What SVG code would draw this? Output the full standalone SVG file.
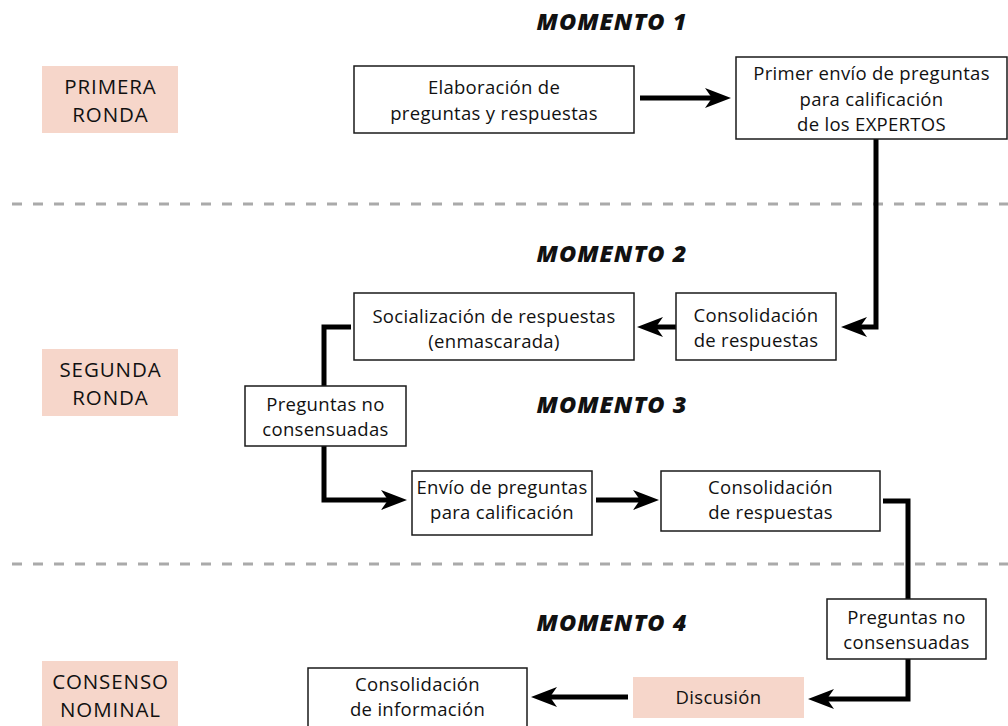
<svg xmlns="http://www.w3.org/2000/svg" width="1008" height="726" viewBox="0 0 1008 726">
<style>
  .box { fill: #ffffff; stroke: #1a1a1a; stroke-width: 1.5; }
  .lab { fill: #f6d6ca; stroke: none; }
  .t { font-family: "Open Sans", "Noto Sans", sans-serif; font-size: 18.5px; letter-spacing: 0.3px; fill: #111; text-anchor: middle; }
  .l { font-family: "Open Sans", "Noto Sans", sans-serif; font-size: 20.5px; letter-spacing: 0.9px; fill: #111; text-anchor: middle; }
  .m { font-family: "Open Sans", "Noto Sans", sans-serif; font-size: 23.5px; letter-spacing: 1px; font-weight: 800; font-style: italic; fill: #111; text-anchor: middle; }
  .dash { stroke: #aaaaaa; stroke-width: 3; stroke-dasharray: 10 11; fill: none; }
  .c { fill: none; stroke: #000; stroke-width: 5; stroke-linejoin: miter; stroke-linecap: butt; }
</style>
<defs>
  <marker id="ah" markerUnits="userSpaceOnUse" markerWidth="27" markerHeight="22" refX="8" refY="10" orient="auto" overflow="visible">
    <path d="M0,0 L26,10 L0,20 L7,10 Z" fill="#000"/>
  </marker>
</defs>
<rect width="1008" height="726" fill="#ffffff"/>

<g id="separators">
  <line class="dash" x1="12" y1="204" x2="1008" y2="204"/>
  <line class="dash" x1="12" y1="564" x2="1008" y2="564"/>
</g>

<g id="moment-titles">
  <text class="m" x="612" y="30">MOMENTO 1</text>
  <text class="m" x="612" y="262">MOMENTO 2</text>
  <text class="m" x="612" y="413">MOMENTO 3</text>
  <text class="m" x="612" y="631">MOMENTO 4</text>
</g>

<g id="connectors">
  <path class="c" d="M640,98 H713" marker-end="url(#ah)"/>
  <path class="c" d="M876,139 V327 H859" marker-end="url(#ah)"/>
  <path class="c" d="M676,327 H655" marker-end="url(#ah)"/>
  <path class="c" d="M351,327 H324 V386"/>
  <path class="c" d="M324,446 V500 H389" marker-end="url(#ah)"/>
  <path class="c" d="M596,500 H641" marker-end="url(#ah)"/>
  <path class="c" d="M883,501 H908 V599"/>
  <path class="c" d="M908,659 V699 H826" marker-end="url(#ah)"/>
  <path class="c" d="M628,697 H549" marker-end="url(#ah)"/>
</g>

<g id="primera-ronda">
  <rect class="lab" x="42" y="66" width="136" height="67"/>
  <text class="l" x="110.5" y="94.3">PRIMERA</text>
  <text class="l" x="110.5" y="122.3">RONDA</text>
</g>
<g id="segunda-ronda">
  <rect class="lab" x="42" y="349" width="136" height="67"/>
  <text class="l" x="110.5" y="376.8">SEGUNDA</text>
  <text class="l" x="110.5" y="404.8">RONDA</text>
</g>
<g id="consenso-nominal">
  <rect class="lab" x="42" y="661" width="136" height="70"/>
  <text class="l" x="110.5" y="688.8">CONSENSO</text>
  <text class="l" x="110.5" y="716.8">NOMINAL</text>
</g>

<g id="elaboracion">
  <rect class="box" x="354" y="66" width="280" height="67"/>
  <text class="t" x="494" y="94.3">Elaboración de</text>
  <text class="t" x="494" y="119.7">preguntas y respuestas</text>
</g>
<g id="primer-envio">
  <rect class="box" x="736" y="57" width="271" height="82"/>
  <text class="t" x="871.5" y="80.2">Primer envío de preguntas</text>
  <text class="t" x="871.5" y="105.5">para calificación</text>
  <text class="t" x="871.5" y="130.8">de los EXPERTOS</text>
</g>
<g id="consolidacion-1">
  <rect class="box" x="676" y="293" width="160" height="67"/>
  <text class="t" x="756" y="321.6">Consolidación</text>
  <text class="t" x="756" y="346.9">de respuestas</text>
</g>
<g id="socializacion">
  <rect class="box" x="354" y="293" width="280" height="67"/>
  <text class="t" x="494" y="322.9">Socialización de respuestas</text>
  <text class="t" x="494" y="348.2">(enmascarada)</text>
</g>
<g id="preguntas-no-1">
  <rect class="box" x="245" y="386" width="161" height="60"/>
  <text class="t" x="325.5" y="410.6">Preguntas no</text>
  <text class="t" x="325.5" y="435.9">consensuadas</text>
</g>
<g id="envio">
  <rect class="box" x="412" y="471" width="180" height="64"/>
  <text class="t" x="502" y="493.6">Envío de preguntas</text>
  <text class="t" x="502" y="518.9">para calificación</text>
</g>
<g id="consolidacion-2">
  <rect class="box" x="661" y="471" width="219" height="60"/>
  <text class="t" x="770.5" y="494.1">Consolidación</text>
  <text class="t" x="770.5" y="519.4">de respuestas</text>
</g>
<g id="preguntas-no-2">
  <rect class="box" x="827" y="599" width="159" height="60"/>
  <text class="t" x="906.5" y="623.6">Preguntas no</text>
  <text class="t" x="906.5" y="648.9">consensuadas</text>
</g>
<g id="discusion">
  <rect class="lab" x="633" y="677" width="171" height="41"/>
  <text class="t" x="718.5" y="704">Discusión</text>
</g>
<g id="consolidacion-informacion">
  <rect class="box" x="308" y="668" width="219" height="64"/>
  <text class="t" x="417.5" y="690.9">Consolidación</text>
  <text class="t" x="417.5" y="716.2">de información</text>
</g>
</svg>
